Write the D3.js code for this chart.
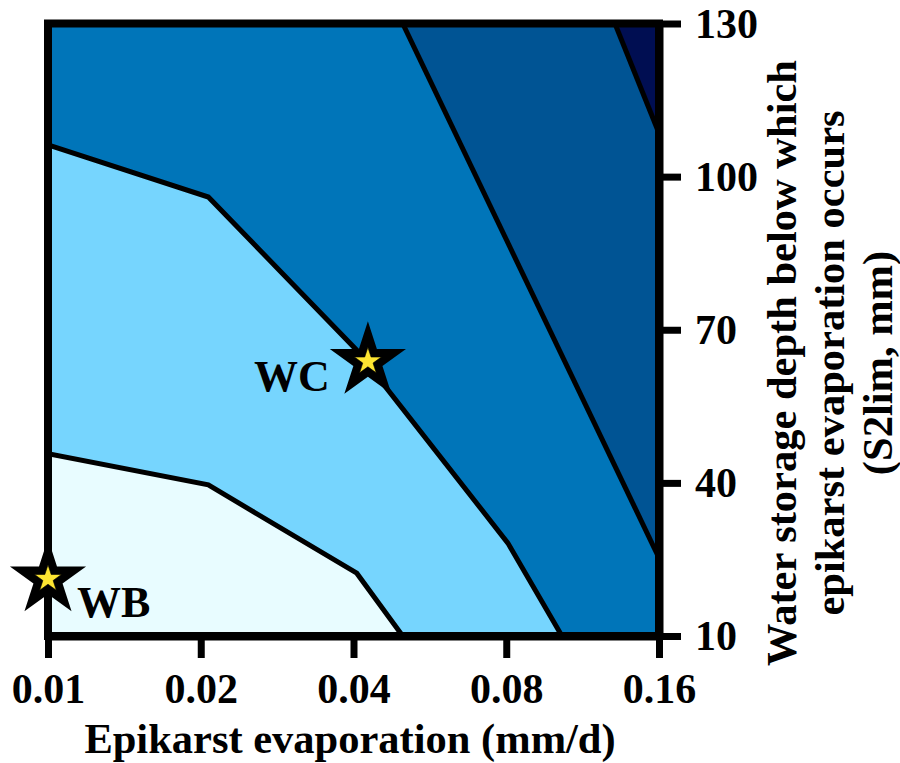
<!DOCTYPE html>
<html>
<head>
<meta charset="utf-8">
<script src="https://cdn.jsdelivr.net/npm/d3@7"></script>
<style>
  body { margin: 0; background: #fff; }
  text { font-family: "Liberation Serif", "Times New Roman", serif; font-weight: bold; fill: #000; }
</style>
</head>
<body>
<svg id="chart" width="900" height="763"></svg>
<script>
// Contour chart: epikarst evaporation vs S2lim

// axis ticks
var xTicks = [0.01, 0.02, 0.04, 0.08, 0.16];
var xTickLabels = ["0.01", "0.02", "0.04", "0.08", "0.16"];
var yTicks = [10, 40, 70, 100, 130];

// contour boundaries, [evaporation, S2lim]
var edge1 = [[0.01, 45.7], [0.0207, 39.6], [0.0406, 22.3], [0.050, 10]];
var edge2 = [[0.01, 106.2], [0.0207, 96.0], [0.0406, 66.0], [0.0806, 28.2], [0.103, 10]];
var edge3 = [[0.050, 130], [0.16, 25.3]];
var edge4 = [[0.131, 130], [0.16, 108.5]];
var contourEdges = [edge1, edge2, edge3, edge4];
var levelColors = ["#e8fcff", "#76d5fe", "#0075b9", "#005494", "#000e52"];

// sites
var siteNames = ["WB", "WC"];
var siteEvap = [0.01, 0.0427];
var siteDepth = [21.2, 63.8];

var svg = d3.select("#chart");

var x = d3.scaleLog().base(2).domain([0.01, 0.16]).range([48, 659]);
var y = d3.scaleLinear().domain([10, 130]).range([636, 23.5]);

var xMin = 0.01, xMax = 0.16, yMin = 10, yMax = 130;

svg.append("clipPath").attr("id", "plot-clip")
  .append("rect")
  .attr("x", x(xMin)).attr("y", y(yMax))
  .attr("width", x(xMax) - x(xMin)).attr("height", y(yMin) - y(yMax));

var plot = svg.append("g").attr("clip-path", "url(#plot-clip)");

// close a boundary into the region above / right of it
function closeRegion(b) {
  var pts = b.slice();
  var start = b[0], end = b[b.length - 1];
  if (end[1] === yMin) pts.push([xMax, yMin]);
  pts.push([xMax, yMax]);
  if (start[0] === xMin) pts.push([xMin, yMax]);
  return pts;
}

var line = d3.line().x(function(d) { return x(d[0]); }).y(function(d) { return y(d[1]); });

// base level
plot.append("path")
  .attr("d", line([[xMin, yMin], [xMax, yMin], [xMax, yMax], [xMin, yMax]]) + "Z")
  .attr("fill", levelColors[0]);

plot.selectAll("path.level")
  .data(contourEdges)
  .enter().append("path")
  .attr("class", "level")
  .attr("d", function(d) { return line(closeRegion(d)) + "Z"; })
  .attr("fill", function(d, i) { return levelColors[i + 1]; });

plot.selectAll("path.edge")
  .data(contourEdges)
  .enter().append("path")
  .attr("class", "edge")
  .attr("d", line)
  .attr("fill", "none")
  .attr("stroke", "#000")
  .attr("stroke-width", 5);

// frame
svg.append("rect")
  .attr("x", x(xMin)).attr("y", y(yMax))
  .attr("width", x(xMax) - x(xMin)).attr("height", y(yMin) - y(yMax))
  .attr("fill", "none").attr("stroke", "#000").attr("stroke-width", 8);

// bottom axis
var gx = svg.append("g")
  .attr("transform", "translate(0," + y(yMin) + ")")
  .call(d3.axisBottom(x).tickValues(xTicks)
    .tickFormat(function(d, i) { return xTickLabels[i]; })
    .tickSizeInner(22).tickSizeOuter(0));
gx.select(".domain").attr("stroke-width", 8);
gx.selectAll(".tick line").attr("stroke-width", 7);
gx.selectAll(".tick text")
  .attr("y", 67).attr("dy", null)
  .style("font-size", "42px");

// right axis
var gy = svg.append("g")
  .attr("transform", "translate(" + x(xMax) + ",0)")
  .call(d3.axisRight(y).tickValues(yTicks).tickSizeInner(22).tickSizeOuter(0));
gy.select(".domain").attr("stroke-width", 8);
gy.selectAll(".tick line").attr("stroke-width", 7);
gy.selectAll(".tick text")
  .attr("x", 36).attr("dy", "0.33em")
  .style("font-size", "42px");
svg.selectAll(".tick text").attr("font-family", null);

// sites
var star = d3.symbol().type(d3.symbolStar);
var sites = svg.selectAll("g.site")
  .data(siteNames)
  .enter().append("g")
  .attr("class", "site")
  .attr("transform", function(d, i) { return "translate(" + x(siteEvap[i]) + "," + y(siteDepth[i]) + ")"; });
sites.append("path").attr("d", star.size(1800)()).attr("fill", "#000");
sites.append("path").attr("d", star.size(225)())
  .attr("fill", "#fde531").attr("stroke", "#000").attr("stroke-width", 0.6);

sites.append("text")
  .attr("x", function(d) { return d === "WB" ? 29 : -38; })
  .attr("y", function(d) { return d === "WB" ? 38 : 30; })
  .attr("text-anchor", function(d) { return d === "WB" ? "start" : "end"; })
  .style("font-size", "44px")
  .text(function(d) { return d; });

// axis titles
svg.append("text")
  .attr("x", 350).attr("y", 753)
  .attr("text-anchor", "middle")
  .style("font-size", "42.5px")
  .text("Epikarst evaporation (mm/d)");

var yTitle = svg.append("text")
  .attr("transform", "translate(796,363) rotate(-90)")
  .attr("text-anchor", "middle")
  .style("font-size", "42.5px");
["Water storage depth below which", "epikarst evaporation occurs", "(S2lim, mm)"].forEach(function(s, i) {
  yTitle.append("tspan").attr("x", 0).attr("y", i * 48).text(s);
});
</script>
</body>
</html>
